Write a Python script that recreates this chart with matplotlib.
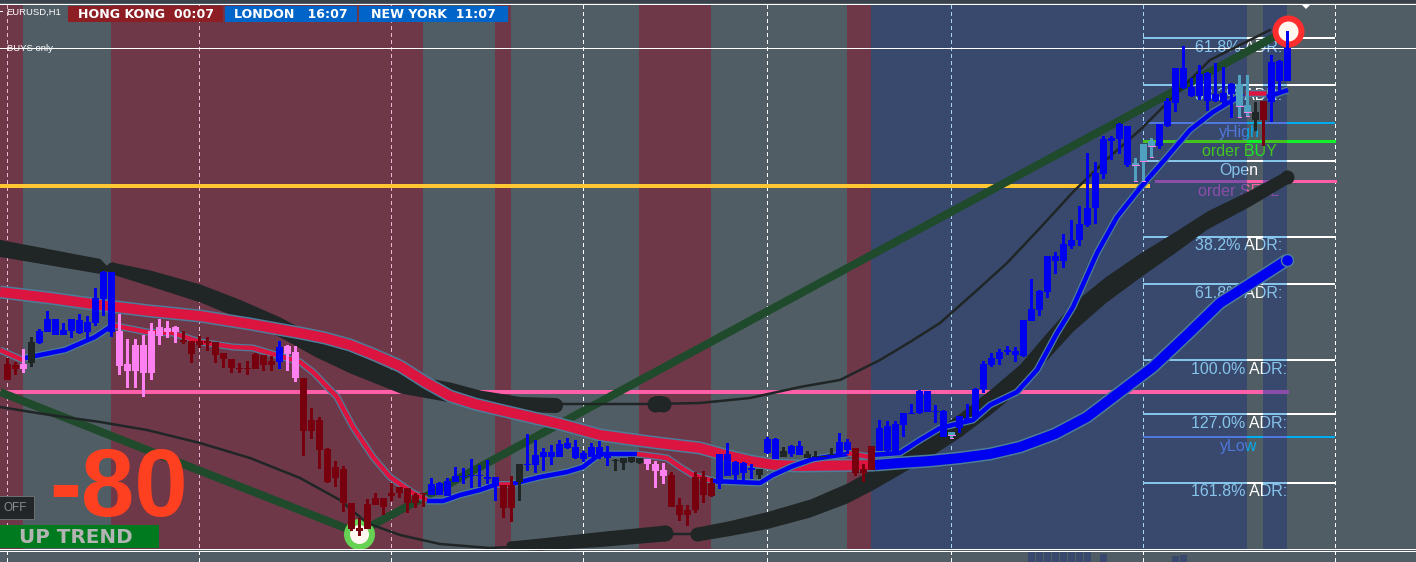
import numpy as np
import matplotlib
matplotlib.use("Agg")
import matplotlib.pyplot as plt
from matplotlib.patches import Rectangle
from matplotlib.transforms import Bbox, TransformedBbox

# Candles (y grows downwards, one candle every 8 px)
body_top = [364,365,364,342,331,319,319,330,319,320,322,298,272,272,331,364,345,345,331,327,328,327,340,341,341,341,342,353,359,368,368,354,355,361,347,346,352,
            378,420,420,449,467,469,503,528,504,498,498,493,487,488,495,493,484,483,481,476,476,475,475,477,477,485,485,464,464,455,452,452,444,443,447,453,447,447,
            452,460,458,457,458,459,464,470,475,505,510,477,477,483,454,454,462,463,468,469,439,439,451,446,446,454,456,456,454,442,442,448,469,446,428,426,424,413,413,391,391,411,411,
            432,416,418,389,364,358,352,350,351,320,309,291,256,256,244,240,224,208,173,139,138,124,126,163,144,141,124,101,68,68,87,74,73,94,93,84,84,105,112,101,62,61,48]
body_bot = [380,369,369,363,343,332,335,335,331,333,332,323,299,332,366,371,371,373,373,336,332,332,342,354,345,343,355,359,368,369,369,369,365,365,362,354,378,
            431,431,450,482,478,503,529,531,529,505,507,496,493,503,503,494,495,495,496,482,477,476,476,479,486,508,508,482,465,465,457,457,457,448,458,459,457,457,
            458,461,463,462,463,464,471,476,507,515,515,510,495,496,484,476,475,473,470,475,453,459,457,454,455,458,457,457,455,454,450,473,473,470,451,451,454,425,414,413,412,412,437,
            435,428,423,418,389,365,359,352,355,356,321,310,292,261,261,246,240,225,208,174,141,139,165,165,161,146,146,126,103,88,96,96,101,101,102,94,106,112,120,120,102,81,81]
wick_top = [358,362,349,337,329,311,319,323,319,314,316,288,271,272,314,339,339,335,323,319,321,326,331,341,336,337,342,353,359,363,361,353,355,356,341,345,346,
            378,408,417,448,461,466,503,518,499,493,498,483,487,488,493,493,478,482,478,467,468,459,465,460,477,485,476,464,434,440,448,445,440,438,440,451,443,441,
            446,459,458,457,458,459,461,463,472,498,505,472,471,478,454,443,461,462,464,469,437,438,447,445,441,451,451,456,448,433,439,448,464,446,420,421,421,413,404,390,391,405,410,
            432,416,404,388,361,353,349,346,347,320,279,290,256,252,234,220,206,153,162,136,136,123,126,158,144,138,124,98,68,46,78,65,72,63,67,83,75,75,102,101,55,60,31]
wick_bot = [380,375,373,367,344,332,335,335,338,334,339,326,316,337,375,388,388,397,380,345,338,343,344,363,348,351,363,368,373,373,375,369,371,371,369,371,382,
            456,439,469,483,487,512,531,536,529,505,515,501,498,513,508,507,495,495,496,482,484,488,487,484,501,518,522,501,471,473,471,465,457,449,459,462,457,459,
            466,471,470,463,464,470,488,484,507,521,526,513,503,497,489,476,480,481,479,479,454,459,457,457,455,458,457,457,455,456,454,476,482,470,451,455,455,437,414,414,412,423,437,
            438,433,423,418,393,367,365,355,362,357,321,316,298,274,268,249,246,227,224,179,160,154,167,181,181,157,149,127,112,89,97,100,111,102,106,118,117,116,131,146,122,93,81]
candle_kind = ("ddpk" + "b"*10 + "p"*8 + "d"*12 + "b" + "pp" + "d"*16 + "b"*9 + "dd" + "k" + "b"*11 + "kkkk" + "ppp"
               + "d"*6 + "b"*5 + "k" + "bb" + "k" + "bb" + "kkkk" + "bb" + "ddd" + "b"*9 + "t" + "b"*22 + "ttt"
               + "b"*10 + "tt" + "k" + "d" + "bbb")
candle_x = 7 + 8 * np.arange(len(body_top))

# Time-of-day background blocks
band_edges = [0, 23, 111, 423, 495, 511, 639, 711, 847, 871, 1247, 1263, 1287, 1416]
band_kinds = ["red", "grey", "red", "grey", "red", "grey", "red", "grey", "red", "blue", "grey", "blue", "grey"]
grid_x = [7, 199, 391, 583, 767, 951, 1143, 1335]

# Horizontal levels
adr_levels = [38, 85, 161, 237, 284, 360, 414, 483]
level_labels = ["61.8% ADR:", "38.2% ADR:", "Open", "38.2% ADR:", "61.8% ADR:", "100.0% ADR:", "127.0% ADR:", "161.8% ADR:"]
yhigh_level, ylow_level, buy_level, sell_level = 123, 437, 141, 181
yellow_level, pink_level, white_level = 186, 392, 48

# Trendline
trend_x = [0, 358, 1287]
trend_y = [392, 533, 30]

# Black moving averages: thick parts have a thickness that changes along the line
upper_x = [0, 50, 100, 106]
upper_y = [248, 257, 266, 268]
upper_w = [17, 16, 15, 6]
upper2_x = [112, 150, 200, 240, 280, 315, 350, 400, 450, 480, 520, 555]
upper2_y = [268, 278, 293, 309, 327, 346, 362, 383, 392, 398, 404, 405]
upper2_w = [12, 16, 18, 19, 20, 21, 22, 20, 20, 16, 15, 15]
thin_up_x = [555, 650, 700, 750, 800, 840, 880, 910, 940, 975, 1007, 1040, 1073, 1106, 1140, 1175, 1210, 1240, 1270]
thin_up_y = [404, 404, 403, 398, 387, 380, 360, 342, 323, 292, 263, 228, 192, 160, 130, 95, 60, 45, 30]
thin_lo_x = [0, 50, 100, 147, 200, 250, 300, 340, 367, 400, 440, 490, 510]
thin_lo_y = [407, 415, 422, 430, 443, 458, 478, 500, 523, 535, 544, 548, 547]
lower_x = [510, 540, 600, 665]
lower_y = [545, 544, 539, 533]
lower_w = [8, 12, 15, 16]
thin2_x = [665, 700]
thin2_y = [534, 534]
lower2_x = [697, 730, 767, 810, 847, 875, 900, 930, 960, 990, 1020, 1045, 1073, 1105, 1140, 1175, 1207, 1250, 1287]
lower2_y = [534, 528, 520, 508, 493, 478, 463, 445, 425, 402, 377, 348, 317, 290, 265, 242, 220, 198, 177]
lower2_w = [14, 15, 17, 18, 20, 21, 22, 23, 24, 25, 26, 27, 28, 26, 24, 21, 18, 16, 14]

# Slow moving average, red then blue
slow_red_x = [0, 50, 100, 150, 200, 250, 300, 325, 350, 375, 400, 425, 450, 475, 500, 530, 560, 600, 650, 700, 725, 750, 775, 800, 875]
slow_red_y = [292, 298, 305, 311, 316, 324, 333, 338, 345, 355, 366, 382, 396, 404, 410, 417, 424, 435, 442, 448, 455, 461, 465, 466, 465]
slow_blue_x = [875, 900, 930, 960, 990, 1020, 1055, 1087, 1120, 1153, 1187, 1220, 1253, 1287]
slow_blue_y = [465, 463, 461, 458, 454, 447, 434, 417, 392, 367, 335, 303, 282, 260]

# Fast moving average, switching colour
fast_red1_x = [0, 25]
fast_red1_y = [350, 361]
fast_blue1_x = [25, 65, 95, 110]
fast_blue1_y = [358, 350, 337, 327]
fast_red2_x = [111, 147, 173, 200, 233, 253, 283, 300, 313, 337, 353, 373, 390, 413, 427]
fast_red2_y = [325, 332, 333, 342, 347, 348, 357, 362, 372, 397, 427, 457, 477, 493, 500]
fast_blue2_x = [427, 443, 460, 480, 497]
fast_blue2_y = [501, 501, 495, 490, 484]
fast_red3_x = [497, 512]
fast_red3_y = [484, 484]
fast_blue3_x = [512, 540, 567, 583, 600, 637]
fast_blue3_y = [484, 477, 472, 467, 454, 454]
fast_red4_x = [637, 667, 680, 693, 713]
fast_red4_y = [454, 458, 467, 475, 481]
fast_blue4_x = [713, 760, 773, 793, 813, 840, 848]
fast_blue4_y = [481, 483, 475, 466, 459, 455, 454]
fast_red5_x = [847, 870]
fast_red5_y = [453, 457]
fast_blue5_x = [870, 900, 920, 940, 973, 990, 1017, 1037, 1057, 1073, 1097, 1117, 1140, 1167, 1190, 1213, 1243]
fast_blue5_y = [455, 453, 440, 428, 420, 405, 392, 370, 333, 307, 253, 217, 188, 157, 130, 112, 94]
fast_red6_x = [1245, 1266]
fast_red6_y = [93, 93]
fast_blue6_x = [1267, 1288]
fast_blue6_y = [97, 90]

# Small volume bars under the chart
volume_x = [1031, 1039, 1047, 1055, 1063, 1071, 1079, 1087, 1103, 1175, 1183]
volume_top = [552, 552, 552, 552, 552, 552, 552, 552, 554, 556, 555]

GREY = "#515d64"
band_colour = {"red": "#6f3849", "grey": GREY, "blue": "#38496d"}
candle_colour = {"b": "#0000f0", "p": "#ff80f0", "d": "#78000e", "k": "#202526", "t": "#50a0c0"}
BLACK_MA = "#202526"
OUTLINE = "#4d7d9a"
PX = 0.72  # points per pixel at dpi 100

fig = plt.figure(figsize=(14.16, 5.62), dpi=100, facecolor=GREY)
ax = fig.add_axes([0, 0, 1, 1])
ax.set_xlim(0, 1416)
ax.set_ylim(562, 0)
ax.axis("off")


def band_list(x0, x1):
    out = []
    for i, kind in enumerate(band_kinds):
        a, b = max(x0, band_edges[i]), min(x1, band_edges[i + 1])
        if b > a:
            out.append((a, b, kind))
    return out


def tinted_level(y, colours, lw, x0=1143, x1=1335):
    for a, b, kind in band_list(x0, x1):
        ax.plot([a, b], [y, y], color=colours.get(kind, colours["grey"]), lw=lw * PX, zorder=2,
                solid_capstyle="butt", antialiased=False)


def tinted_text(x, y, s, colours, size=11.5):
    for a, b, kind in band_list(x - 70, x + 70):
        t = ax.text(x, y, s, color=colours.get(kind, colours["grey"]), ha="center", va="center", fontsize=size,
                    family="Liberation Sans", zorder=2, clip_on=True)
        t.set_clip_box(TransformedBbox(Bbox([[a, 0], [b, 562]]), ax.transData))


def ma_band(x, y, w, zorder=4):
    x, y, w = np.array(x), np.array(y), np.array(w)
    ax.fill_between(x, y - w / 2, y + w / 2, color=BLACK_MA, lw=0, zorder=zorder)
    ax.plot(x[-1], y[-1], "o", ms=w[-1] * PX, color=BLACK_MA, mew=0, zorder=zorder)
    ax.plot(x[0], y[0], "o", ms=w[0] * PX, color=BLACK_MA, mew=0, zorder=zorder)


def ma_line(x, y, colour, width, zorder=5, edge=3):
    ax.plot(x, y, color=OUTLINE, lw=(width + edge) * PX, zorder=zorder, solid_capstyle="butt", solid_joinstyle="round")
    ax.plot(x, y, color=colour, lw=width * PX, zorder=zorder + 0.1, solid_capstyle="butt", solid_joinstyle="round")


# background
for i, kind in enumerate(band_kinds):
    ax.add_patch(Rectangle((band_edges[i], 5), band_edges[i + 1] - band_edges[i], 544, color=band_colour[kind],
                           lw=0, zorder=0, antialiased=False))
ax.add_patch(Rectangle((0, 0), 1416, 3, color="#39424a", lw=0, zorder=0))
ax.bar(np.array(volume_x) + 0.5, [562 - v for v in volume_top], bottom=volume_top, width=7, color="#38496d", lw=0,
       zorder=0.5, antialiased=False)

tick_tint = {"red": "#e6b8d2", "blue": "#a8d4ee", "grey": "#ffffff"}
for gx in grid_x:
    kind = [k for a, b, k in band_list(0, 1416) if a <= gx < b][0]
    ax.plot([gx, gx], [5, 549], color=tick_tint[kind], lw=1 * PX, ls=(0, (3, 3)), zorder=1, antialiased=False)
    ax.plot([gx, gx], [551, 562], color="white", lw=1 * PX, ls=(0, (3, 3)), zorder=1, antialiased=False)

for yy in [4, 549, 551]:
    ax.axhline(yy, color="white", lw=1 * PX, zorder=8, antialiased=False)
ax.axhline(white_level, color="white", lw=1 * PX, zorder=2.5, antialiased=False)

# levels and their names
level_colours = {"blue": "#87c4ea", "grey": "#ffffff"}
for yy in adr_levels:
    tinted_level(yy, level_colours, 2)
label_y = [47, 95, 171, 246, 293, 369, 423, 492]
for yy, s in zip(label_y, level_labels):
    tinted_text(1239, yy, s, level_colours)
hi_colours = {"blue": "#5078dc", "grey": "#00aef0"}
buy_colours = {"blue": "#44c41e", "grey": "#12f02a"}
sell_colours = {"blue": "#8a4ea8", "grey": "#ff5fa8"}
tinted_level(yhigh_level, hi_colours, 2)
tinted_level(ylow_level, hi_colours, 2)
tinted_level(buy_level, buy_colours, 3)
tinted_level(sell_level, sell_colours, 3, x0=1155, x1=1336)
tinted_text(1239, 132, "yHigh", hi_colours)
tinted_text(1239, 447, "yLow", hi_colours)
tinted_text(1239, 151, "order BUY", buy_colours)
tinted_text(1239, 191, "order SELL", sell_colours)

ax.plot([0, 1150], [yellow_level, yellow_level], color="#ffc832", lw=4 * PX, zorder=3, solid_capstyle="butt")
ax.plot([0, 1263], [pink_level, pink_level], color="#ff5fa8", lw=4 * PX, zorder=3, solid_capstyle="butt")
ax.plot([1263, 1289], [pink_level, pink_level], color="#8a4ea8", lw=4 * PX, zorder=3, solid_capstyle="butt")

# trend and moving averages
ax.plot(trend_x, trend_y, color="#1f4a2b", lw=8 * PX, zorder=3.5, solid_joinstyle="miter", solid_capstyle="butt")
ax.plot([359], [534], "o", ms=31 * PX, color="#66d254", mew=0, zorder=3.6)
ax.plot([359], [534], "o", ms=19 * PX, color="#fff6f0", mew=0, zorder=3.7)
ma_band(upper_x, upper_y, upper_w)
ma_band(upper2_x, upper2_y, upper2_w)
ma_band([655, 663], [404, 404], [16, 16])
ma_band(lower_x, lower_y, lower_w)
ma_band(lower2_x, lower2_y, lower2_w)
ax.plot(thin_up_x, thin_up_y, color=BLACK_MA, lw=2.5 * PX, zorder=3.8)
ax.plot(thin_lo_x, thin_lo_y, color=BLACK_MA, lw=2.5 * PX, zorder=3.8)
ax.plot(thin2_x, thin2_y, color=BLACK_MA, lw=2.5 * PX, zorder=3.8)

ma_line(slow_red_x, slow_red_y, "#dc1440", 10)
ma_line(slow_blue_x, slow_blue_y, "#0000f0", 10)
ax.plot(slow_blue_x[-1], slow_blue_y[-1], "o", ms=12 * PX, color="#0000f0", mec=OUTLINE, mew=1.5 * PX, zorder=5.2)
for fx, fy, c in [(fast_red1_x, fast_red1_y, "#dc1440"), (fast_blue1_x, fast_blue1_y, "#0000f0"),
                  (fast_red2_x, fast_red2_y, "#dc1440"), (fast_blue2_x, fast_blue2_y, "#0000f0"),
                  (fast_red3_x, fast_red3_y, "#dc1440"), (fast_blue3_x, fast_blue3_y, "#0000f0"),
                  (fast_red4_x, fast_red4_y, "#dc1440"), (fast_blue4_x, fast_blue4_y, "#0000f0"),
                  (fast_red5_x, fast_red5_y, "#dc1440"), (fast_blue5_x, fast_blue5_y, "#0000f0"),
                  (fast_red6_x, fast_red6_y, "#dc1440"), (fast_blue6_x, fast_blue6_y, "#0000f0")]:
    ma_line(fx, fy, c, 4.5, zorder=5.4, edge=2.5)

# red ring at the high
ax.plot([1288], [31], "o", ms=32 * PX, color="#ff2e2e", mew=0, zorder=5.6)
ax.plot([1288], [31], "o", ms=20 * PX, color="#fff6f0", mew=0, zorder=5.7)

# candles: half a pixel to the right so the edges land on whole pixels
colours = [candle_colour[k] for k in candle_kind]
wt, wb, bt, bb = map(np.array, (wick_top, wick_bot, body_top, body_bot))
ax.bar(candle_x + 0.5, wb - wt, bottom=wt, width=3, color=colours, lw=0, zorder=6, antialiased=False)
ax.bar(candle_x + 0.5, np.maximum(bb - bt, 1), bottom=bt, width=7, color=colours, lw=0, zorder=6, antialiased=False)
for x, k, b1, b2 in zip(candle_x, candle_kind, bb, wb):
    if k == "t":
        ax.plot([x - 3, x + 4], [b1, b1], color="#ff80f0", lw=1 * PX, zorder=6.1, antialiased=False)
        ax.plot([x - 1, x + 2], [b2, b2], color="#ff80f0", lw=1 * PX, zorder=6.1, antialiased=False)

# header and panels
header_x0 = [68, 225, 359]
header_x1 = [223, 357, 508]
header_colour = ["#8c1e24", "#0064c8", "#0064c8"]
header_text = ["HONG KONG  00:07", "LONDON   16:07", "NEW YORK  11:07"]
for x0, x1, c, s in zip(header_x0, header_x1, header_colour, header_text):
    ax.add_patch(Rectangle((x0, 6), x1 - x0, 16, color=c, lw=0, zorder=9, antialiased=False))
    ax.text((x0 + x1) / 2, 14.5, s, color="white", fontsize=9.1, fontweight="bold", family="DejaVu Sans",
            ha="center", va="center", zorder=10)
ax.text(6, 12, "EURUSD,H1", color="white", fontsize=6.8, family="Liberation Sans", va="center", zorder=10)
ax.text(7, 48.5, "BUYS only", color="white", fontsize=6.8, family="Liberation Sans", va="center", zorder=10)
ax.plot([0, 2], [11, 11], color="white", lw=1 * PX, zorder=10)
ax.fill([1301, 1311, 1306], [4, 4, 9], color="white", lw=0, zorder=9)

ax.text(119, 516, "-80", color="#ff4020", fontsize=69, fontweight="bold", family="Liberation Sans",
        ha="center", va="baseline", zorder=10)
ax.add_patch(Rectangle((-1, 496), 35, 23, facecolor="#232628", edgecolor="#6a6e70", lw=1 * PX, zorder=10))
ax.text(15, 508, "OFF", color="#8a8d8f", fontsize=8.5, family="Liberation Sans", ha="center", va="center", zorder=11)
ax.add_patch(Rectangle((0, 525), 159, 23, color="#007a1e", lw=0, zorder=10, antialiased=False))
ax.text(76, 537.5, "UP TREND", color="#b4b4b4", fontsize=14.3, fontweight="bold", family="DejaVu Sans",
        ha="center", va="center", zorder=11)

fig.savefig("out.png", dpi=100, facecolor=GREY)
